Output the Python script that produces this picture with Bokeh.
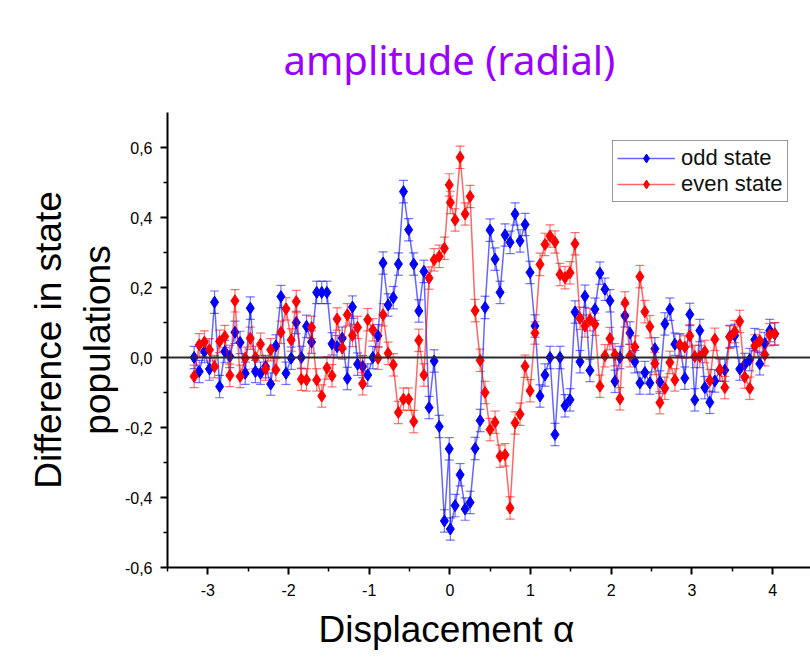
from bokeh.plotting import figure
from bokeh.models import (ColumnDataSource, Whisker, TeeHead, Span, FixedTicker,
                          Legend, LegendItem, Title, Range1d)
from bokeh.embed import file_html
from bokeh.resources import INLINE

# ---------------- data ----------------
alpha_neg = [-3.17, -3.107, -3.043, -2.98, -2.917, -2.854, -2.79, -2.727, -2.664, -2.6,
             -2.537, -2.474, -2.41, -2.347, -2.284, -2.221, -2.157, -2.094, -2.031, -1.967,
             -1.904, -1.841, -1.777, -1.714, -1.651, -1.588, -1.524, -1.461, -1.398, -1.334,
             -1.271, -1.208, -1.144, -1.081, -1.018, -0.955, -0.891, -0.828, -0.765, -0.701,
             -0.638, -0.575, -0.511, -0.448, -0.385, -0.322, -0.258, -0.195, -0.132, -0.068]
alpha_zero = [-0.008, 0.006]
alpha_pos = [0.065, 0.127, 0.189, 0.251, 0.313, 0.375, 0.436, 0.498, 0.56, 0.622,
             0.684, 0.746, 0.808, 0.87, 0.932, 0.994, 1.055, 1.117, 1.179, 1.241,
             1.303, 1.365, 1.427, 1.489, 1.551, 1.613, 1.674, 1.736, 1.798, 1.86,
             1.922, 1.984, 2.046, 2.108, 2.17, 2.232, 2.293, 2.355, 2.417, 2.479,
             2.541, 2.603, 2.665, 2.727, 2.789, 2.851, 2.912, 2.974, 3.036, 3.098,
             3.16, 3.222, 3.284, 3.346, 3.408, 3.47, 3.531, 3.593, 3.655, 3.717,
             3.779, 3.841, 3.903, 3.965, 4.027]
alpha = alpha_neg + alpha_zero + alpha_pos

odd_state = [0.00, -0.04, 0.017, -0.033, 0.158, -0.083, 0.017, 0.003, 0.072, 0.043,
             -0.045, 0.141, -0.04, -0.045, -0.026, -0.076, 0.033, 0.174, -0.045, -0.002,
             0.10, 0.0, 0.089, 0.044, 0.186, 0.186, 0.186, 0.039, 0.031, 0.055,
             -0.06, 0.144, -0.019, -0.026, -0.05, 0.0, 0.062, 0.27, 0.15, 0.171,
             0.267, 0.474, 0.365, 0.267, 0.133, 0.246, -0.143, -0.01, -0.197, -0.467,
             -0.261, -0.49,
             -0.423, -0.335, -0.433, -0.414, -0.26, -0.18, 0.143, 0.364, 0.281, 0.186,
             0.35, 0.329, 0.41, 0.333, 0.38, 0.243, 0.09, -0.11, -0.05, 0.0,
             -0.22, 0.0, -0.138, -0.121, 0.13, -0.012, 0.175, -0.037, 0.138, 0.241,
             0.195, 0.162, -0.068, 0.0, 0.119, 0.07, -0.012, -0.073, -0.043, -0.073,
             0.025, -0.07, 0.096, 0.138, 0.038, 0.035, -0.059, 0.123, -0.121, 0.077,
             -0.086, -0.128, -0.067, -0.036, -0.036, 0.06, 0.063, -0.033, -0.02, -0.006,
             0.051, -0.018, 0.04, 0.077, 0.067]

even_state = [-0.054, 0.036, 0.044, 0.022, -0.026, 0.046, 0.06, -0.051, 0.162, -0.054,
              -0.002, 0.055, 0.0, 0.038, -0.033, 0.022, -0.035, 0.072, 0.139, 0.05,
              0.16, -0.062, -0.064, 0.086, -0.064, -0.11, -0.03, -0.052, 0.11, 0.027,
              0.122, 0.063, 0.086, -0.075, 0.108, 0.079, -0.002, 0.122, 0.012, -0.021,
              -0.157, -0.119, -0.119, -0.183, 0.049, -0.05, 0.227, 0.279, 0.289, 0.312,
              0.493, 0.443,
              0.393, 0.572, 0.41, 0.46, 0.134, -0.008, -0.1, -0.206, -0.185, -0.282,
              -0.278, -0.43, -0.187, -0.162, -0.025, -0.095, 0.07, 0.266, 0.323, 0.347,
              0.33, 0.237, 0.228, 0.242, 0.325, 0.112, 0.09, 0.108, 0.095, -0.082,
              0.005, 0.054, 0.008, -0.118, 0.156, 0.005, 0.03, 0.231, 0.131, 0.088,
              -0.017, -0.129, -0.088, -0.014, -0.064, 0.036, 0.030, 0.062, 0.003, 0.003,
              0.017, -0.066, 0.052, -0.035, -0.086, 0.058, 0.074, 0.103, -0.056, -0.088,
              0.033, 0.048, 0.008, 0.065, 0.068]

error_bar = 0.032

series_names = ["odd state", "even state"]
series_colors = ["#0000FF", "#FF0000"]

x_ticks = [-3, -2, -1, 0, 1, 2, 3, 4]
x_tick_labels = ["-3", "-2", "-1", "0", "1", "2", "3", "4"]
x_minor = [-3.5, -2.5, -1.5, -0.5, 0.5, 1.5, 2.5, 3.5, 4.5]
y_ticks = [-0.6, -0.4, -0.2, 0.0, 0.2, 0.4, 0.6]
y_tick_labels = ["-0,6", "-0,4", "-0,2", "0,0", "0,2", "0,4", "0,6"]
y_minor = [-0.5, -0.3, -0.1, 0.1, 0.3, 0.5]

title_text = "amplitude (radial)"
x_label = "Displacement \u03b1"
y_label = "Difference in state\npopulations"

# ---------------- figure ----------------
p = figure(width=810, height=660,
           x_range=Range1d(-3.5, 4.47), y_range=Range1d(-0.6, 0.7),
           output_backend="svg", toolbar_location=None,
           min_border_left=167, min_border_right=0,
           min_border_top=112, min_border_bottom=93)
p.xgrid.visible = False
p.ygrid.visible = False
p.outline_line_color = None
p.background_fill_color = "white"
p.border_fill_color = "white"

# slide title (top of the page)
p.title.text = title_text
p.title.align = "left"
p.title.offset = 116
p.title.standoff = 52
p.title.text_color = "#9A00FF"
p.title.text_font = "Noto Sans"
p.title.text_font_size = "40px"
p.title.text_font_style = "normal"

p.add_layout(Span(location=0, dimension="width", line_color="#2b2b2b", line_width=2.2))

legend_items = []
for name, ys, col in zip(series_names, [odd_state, even_state], series_colors):
    src = ColumnDataSource(dict(
        x=alpha, y=ys,
        upper=[v + error_bar for v in ys],
        lower=[v - error_bar for v in ys]))
    ln = p.line("x", "y", source=src, line_color=col, line_alpha=0.6, line_width=1.5)
    wh = Whisker(source=src, base="x", upper="upper", lower="lower",
                 line_color=col, line_alpha=0.55, line_width=1.2,
                 upper_head=TeeHead(size=9, line_color=col, line_alpha=0.55, line_width=1.2),
                 lower_head=TeeHead(size=9, line_color=col, line_alpha=0.55, line_width=1.2))
    p.add_layout(wh)
    sc = p.scatter("x", "y", source=src, marker="diamond", size=12,
                   fill_color=col, line_color=col)
    legend_items.append(LegendItem(label=name, renderers=[ln, sc]))

legend = Legend(items=legend_items, location=(445, 365),
                border_line_color="#333333", border_line_width=1.5,
                background_fill_color="white", background_fill_alpha=1.0,
                label_text_font="Liberation Sans", label_text_font_size="22px",
                label_text_color="#111111",
                glyph_width=58, glyph_height=22, label_standoff=6,
                padding=4, spacing=0, margin=0)
p.add_layout(legend, "center")

# axes
xa = p.xaxis[0]
ya = p.yaxis[0]
xa.ticker = FixedTicker(ticks=x_ticks, minor_ticks=x_minor)
ya.ticker = FixedTicker(ticks=y_ticks, minor_ticks=y_minor)
xa.major_label_overrides = dict(zip(x_ticks, x_tick_labels))
ya.major_label_overrides = dict(zip(y_ticks, y_tick_labels))
ya.axis_label = y_label
for ax in (xa, ya):
    ax.axis_line_color = "black"
    ax.axis_line_width = 2
    ax.major_tick_line_color = "black"
    ax.major_tick_line_width = 2
    ax.minor_tick_line_color = "black"
    ax.minor_tick_line_width = 1.5
    ax.major_tick_in = 0
    ax.major_tick_out = 7
    ax.minor_tick_in = 0
    ax.minor_tick_out = 4
    ax.major_label_text_font = "Liberation Sans"
    ax.major_label_text_font_size = "16px"
    ax.major_label_text_color = "black"
    ax.axis_label_text_font = "Liberation Sans"
    ax.axis_label_text_font_size = "37px"
    ax.axis_label_text_font_style = "normal"
    ax.axis_label_text_color = "black"
xa.major_label_standoff = 9
ya.major_label_standoff = 8
ya.axis_label_standoff = 4

# x-axis title placed as in the reference (left of the frame centre)
x_title = Title(text=x_label, align="left", offset=151, standoff=16,
                text_color="black", text_font="Liberation Sans",
                text_font_size="37px", text_font_style="normal")
p.add_layout(x_title, "below")

open("out.html", "w").write(file_html(p, INLINE))
